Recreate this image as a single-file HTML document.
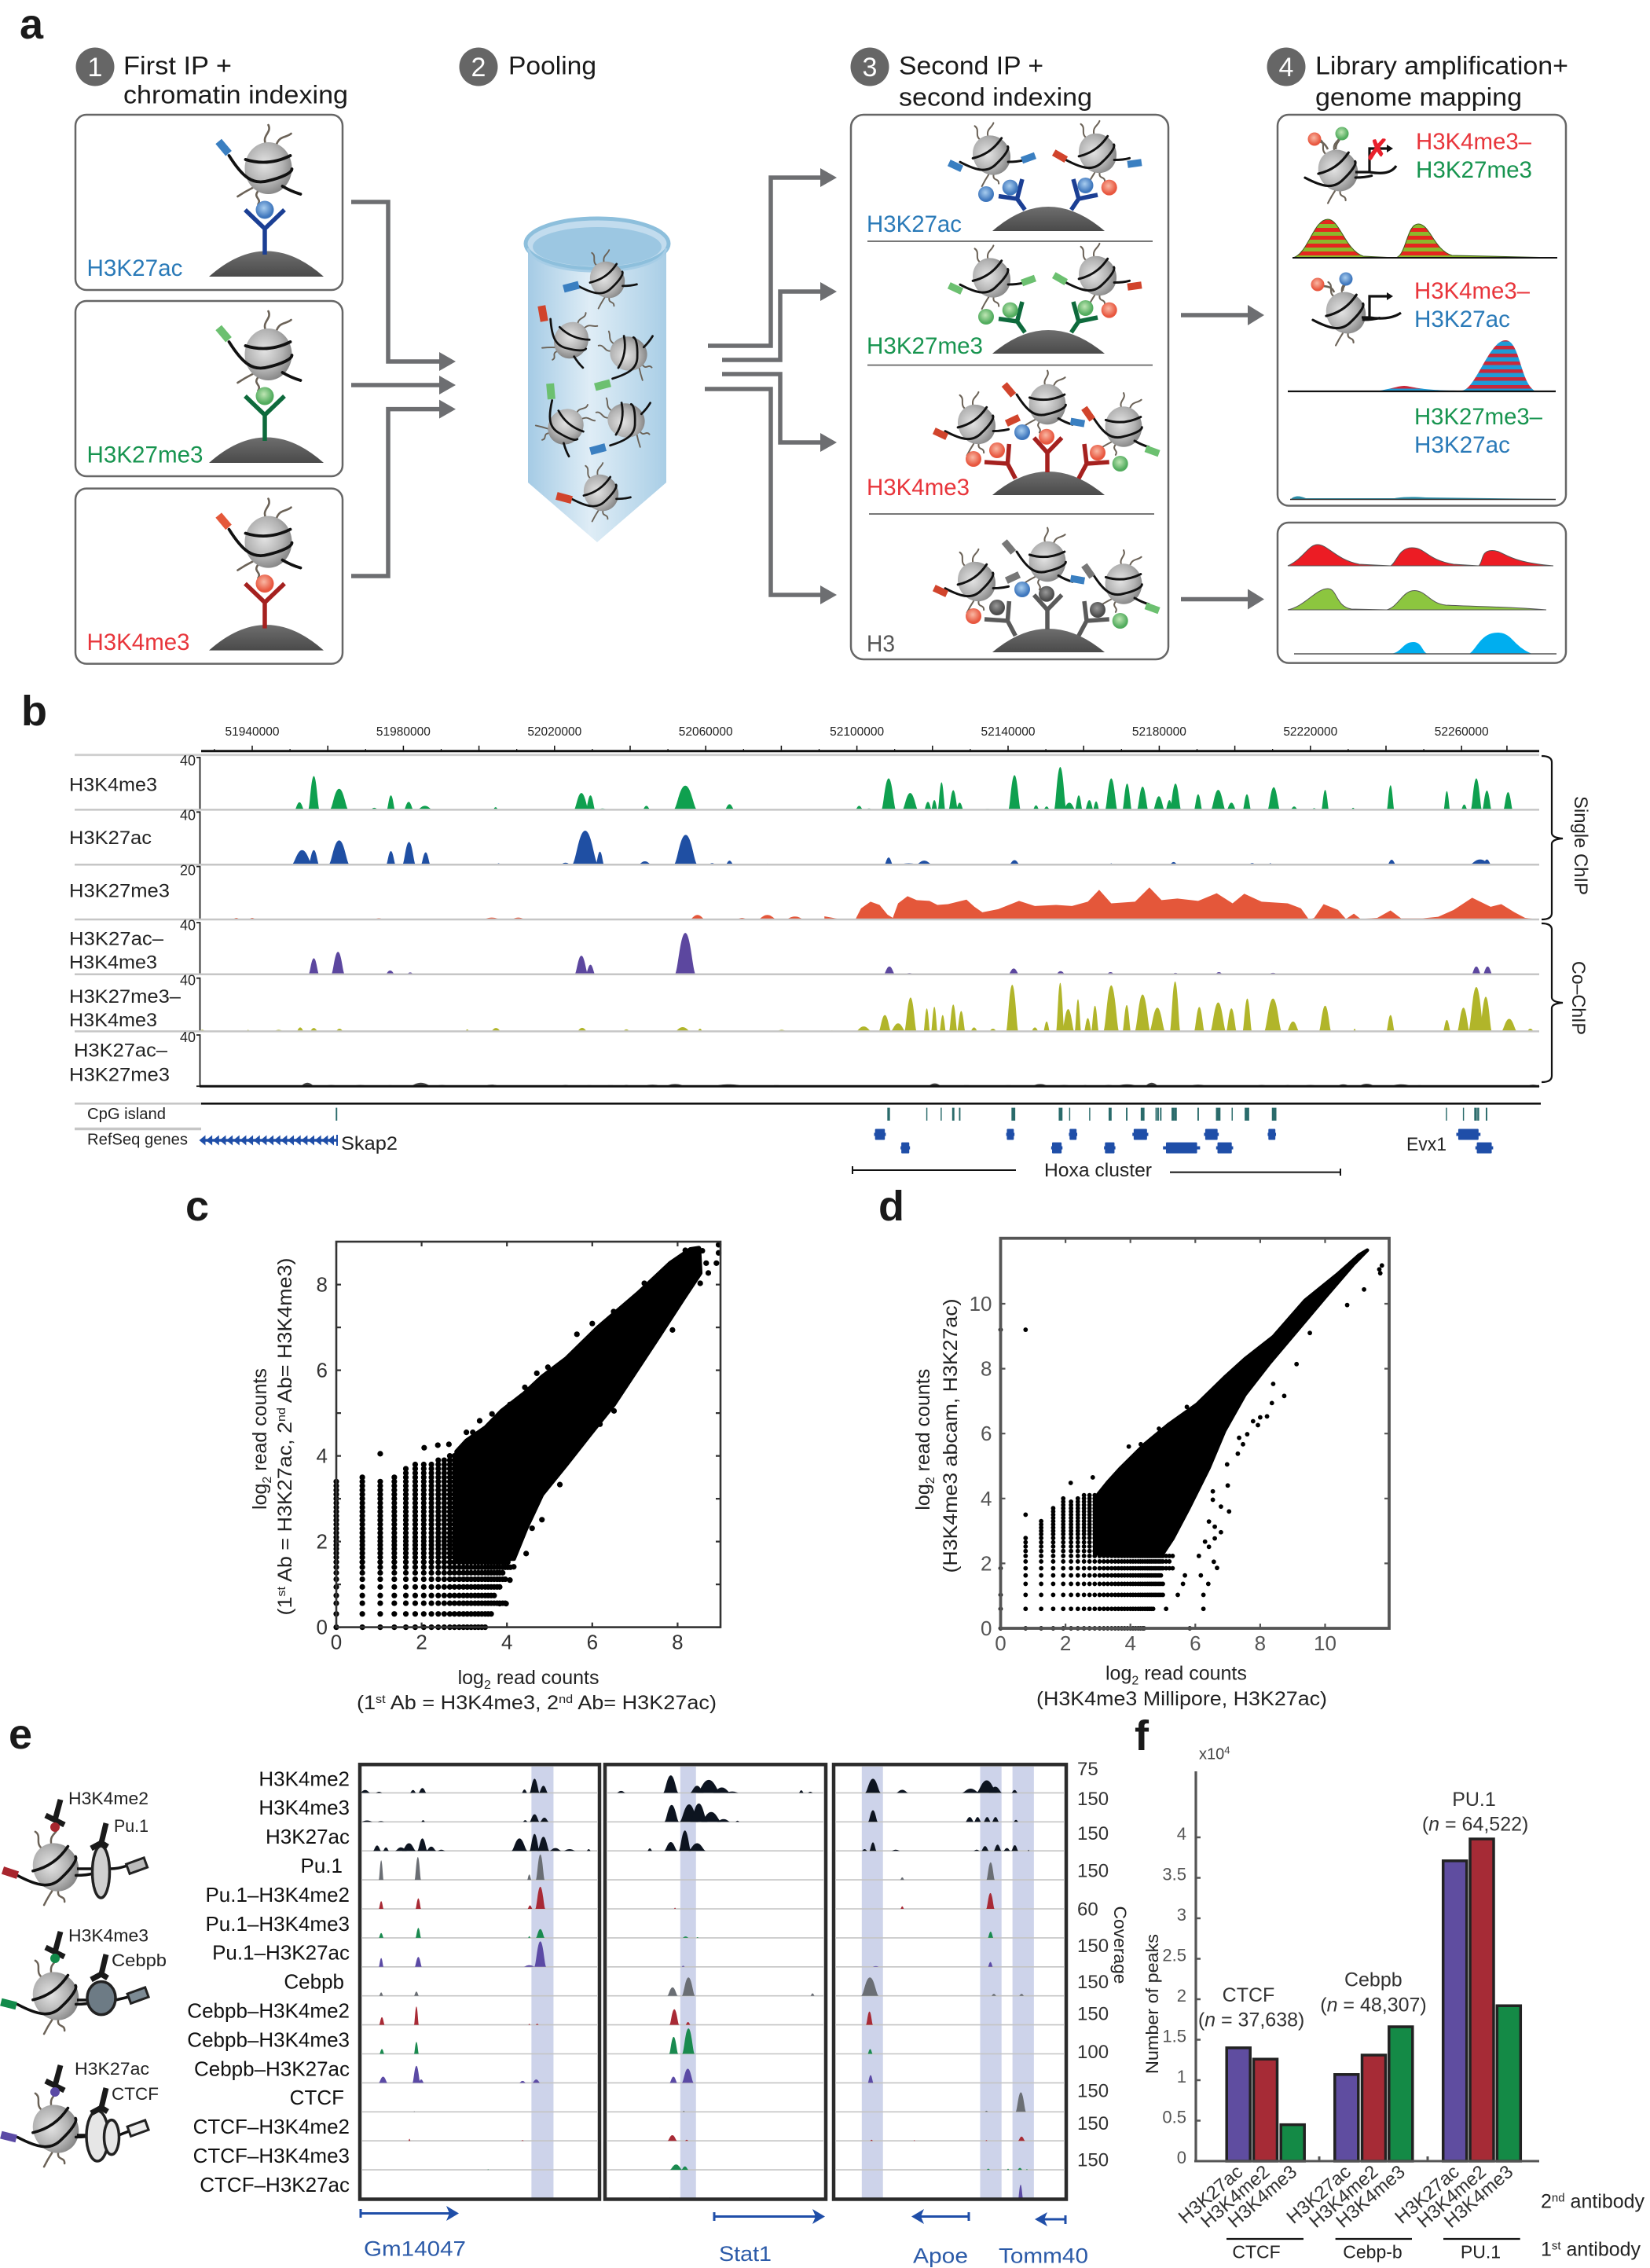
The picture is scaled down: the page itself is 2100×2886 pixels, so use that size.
<!DOCTYPE html>
<html lang="en">
<head>
<meta charset="utf-8">
<title>Sequential ChIP figure</title>
<style>
html,body{margin:0;padding:0;background:#fff}
svg{display:block}
text{font-family:"Liberation Sans",sans-serif}
.cap{font-size:32px;fill:#1a1a1a}
.num{font-size:34px;fill:#fff;text-anchor:middle}
.let{font-size:54px;font-weight:bold;fill:#1a1a1a}
.ab{font-size:30px}
.blue{fill:#2a7ab8}.green{fill:#17944f}.red{fill:#e8353b}
.box{fill:#fff;stroke:#666;stroke-width:2.5}
.arr{fill:none;stroke:#6d6e71;stroke-width:5.5}
.hd{fill:#6d6e71}
.div{stroke:#777;stroke-width:2}
.tb{font-size:24px;fill:#222}
.rot{font-size:24px;fill:#222}
.ct{font-size:20px;fill:#222}
.sc{font-size:25px;fill:#222}
.el{font-size:26px;fill:#111}
.cov{font-size:24px;fill:#333}
.gn{font-size:27px;fill:#2b5aa8}
.gb{fill:none;stroke:#1f4ea8;stroke-width:3}
.ghd{fill:#1f4ea8}
.fg{font-size:25px;fill:#333}
.flab{font-size:23px;fill:#222}
.ck{font-size:22px;fill:#333}
</style>
</head>
<body>
<svg xmlns="http://www.w3.org/2000/svg" id="fig" width="2100" height="2886" viewBox="0 0 2100 2886">
<defs>
<radialGradient id="nucG" cx=".42" cy=".42" r=".65"><stop offset="0" stop-color="#e4e4e4"/><stop offset=".6" stop-color="#b2b2b2"/><stop offset="1" stop-color="#7c7c7c"/></radialGradient>
<radialGradient id="ballB" cx=".45" cy=".4"><stop offset="0" stop-color="#a8cdef"/><stop offset="1" stop-color="#3f77bd"/></radialGradient>
<radialGradient id="ballG" cx=".45" cy=".4"><stop offset="0" stop-color="#bfe6b4"/><stop offset="1" stop-color="#52ac5e"/></radialGradient>
<radialGradient id="ballR" cx=".45" cy=".4"><stop offset="0" stop-color="#f9b8a4"/><stop offset="1" stop-color="#e8573f"/></radialGradient>
<radialGradient id="ballK" cx=".45" cy=".4"><stop offset="0" stop-color="#999"/><stop offset="1" stop-color="#4c4c4c"/></radialGradient>
<linearGradient id="domeG" x1="0" y1="0" x2="0" y2="1"><stop offset="0" stop-color="#6e6e6e"/><stop offset="1" stop-color="#4a4a4a"/></linearGradient>
<linearGradient id="tubeG" x1="0" y1="0" x2="1" y2="0"><stop offset="0" stop-color="#a5cbe5"/><stop offset=".45" stop-color="#dfedf6"/><stop offset="1" stop-color="#a9cee6"/></linearGradient>
<pattern id="stripeRG" patternUnits="userSpaceOnUse" width="10" height="10"><rect width="10" height="10" fill="#8cb82c"/><rect width="10" height="5" fill="#e5261f"/></pattern>
<pattern id="stripeRB" patternUnits="userSpaceOnUse" width="10" height="10"><rect width="10" height="10" fill="#1f9ad6"/><rect width="10" height="4.5" fill="#c9283a"/></pattern>
<g id="nuc">
<g fill="none" stroke="#6b6257" stroke-width="2.6" stroke-linecap="round">
<path d="M-3,-30 C-9,-42 5,-45 0,-55"/><path d="M10,-29 C14,-42 22,-38 29,-44"/><path d="M-20,25 Q-30,30 -39,36"/><path d="M-13,29 C-20,38 -8,38 -13,46"/>
</g>
<ellipse rx="30" ry="33" fill="url(#nucG)"/>
<g fill="none" stroke="#111" stroke-width="3.8" stroke-linecap="round">
<path d="M-29,-11 Q0,-2 28,-16"/>
<path d="M-50,-16 C-33,11 -20,22 0,16 C17,12 30,6 30,1"/>
<path d="M18,23 Q30,30 41,33"/>
</g>
</g>
<rect id="tag" x="-10" y="-5" width="20" height="10"/>
<g id="abBox" fill="none" stroke-width="5.5"><path d="M0,33 V0 M0,0 L-25,-24 M0,0 L25,-24" stroke-linejoin="miter"/></g>
</defs>

<!-- PANEL A -->
<g>
<text class="let" x="25" y="49">a</text>
<g>
<circle cx="121" cy="85" r="24.5" fill="#666"/><text class="num" x="121" y="97">1</text>
<text class="cap" x="157" y="94.3" textLength="138" lengthAdjust="spacingAndGlyphs">First IP +</text>
<text class="cap" x="157" y="131.6" textLength="286" lengthAdjust="spacingAndGlyphs">chromatin indexing</text>
</g>
<g>
<circle cx="609" cy="85" r="24.5" fill="#666"/><text class="num" x="609" y="97">2</text>
<text class="cap" x="647" y="94.3" textLength="112" lengthAdjust="spacingAndGlyphs">Pooling</text>
</g>
<g>
<circle cx="1107" cy="85" r="24.5" fill="#666"/><text class="num" x="1107" y="97">3</text>
<text class="cap" x="1144" y="94.3" textLength="184" lengthAdjust="spacingAndGlyphs">Second IP +</text>
<text class="cap" x="1144" y="134.4" textLength="246" lengthAdjust="spacingAndGlyphs">second indexing</text>
</g>
<g>
<circle cx="1637" cy="85" r="24.5" fill="#666"/><text class="num" x="1637" y="97">4</text>
<text class="cap" x="1674" y="94.3" textLength="322" lengthAdjust="spacingAndGlyphs">Library amplification+</text>
<text class="cap" x="1674" y="134.4" textLength="263" lengthAdjust="spacingAndGlyphs">genome mapping</text>
</g>

<!-- first IP boxes -->
<g>
<rect class="box" x="96" y="146" width="340" height="223" rx="14"/>
<use href="#nuc" transform="translate(341.5,214)"/><use href="#tag" transform="translate(284.6,187.6) rotate(50)" fill="#3a7fc1"/>
<path d="M266,352 Q339,287 412,352 Z" fill="url(#domeG)"/>
<use href="#abBox" transform="translate(337,291)" stroke="#1b3f94"/><circle cx="337" cy="267" r="11.5" fill="url(#ballB)"/>
<text class="ab blue" x="110.5" y="351" textLength="122" lengthAdjust="spacingAndGlyphs">H3K27ac</text>
</g>
<g transform="translate(0,237)">
<rect class="box" x="96" y="146" width="340" height="223" rx="14"/>
<use href="#nuc" transform="translate(341.5,214)"/><use href="#tag" transform="translate(284.6,187.6) rotate(50)" fill="#6cc070"/>
<path d="M266,352 Q339,287 412,352 Z" fill="url(#domeG)"/>
<use href="#abBox" transform="translate(337,291)" stroke="#0e6a3c"/><circle cx="337" cy="267" r="11.5" fill="url(#ballG)"/>
<text class="ab green" x="110.5" y="351.6" textLength="148" lengthAdjust="spacingAndGlyphs">H3K27me3</text>
</g>
<g transform="translate(0,475.6)">
<rect class="box" x="96" y="146" width="340" height="223" rx="14"/>
<use href="#nuc" transform="translate(341.5,214)"/><use href="#tag" transform="translate(284.6,187.6) rotate(50)" fill="#e4583a"/>
<path d="M266,352 Q339,287 412,352 Z" fill="url(#domeG)"/>
<use href="#abBox" transform="translate(337,291)" stroke="#a5211f"/><circle cx="337" cy="267" r="11.5" fill="url(#ballR)"/>
<text class="ab red" x="110.5" y="351.4" textLength="131" lengthAdjust="spacingAndGlyphs">H3K4me3</text>
</g>

<!-- pooling arrows -->
<g>
<path class="arr" d="M447,257 H494 V460 H560"/><path class="hd" d="M559,448 L580,460 L559,472Z"/>
<path class="arr" d="M447,490 H560"/><path class="hd" d="M559,478 L580,490 L559,502Z"/>
<path class="arr" d="M447,733 H494 V520.6 H560"/><path class="hd" d="M559,508.6 L580,520.6 L559,532.6Z"/>
</g>

<!-- tube -->
<g>
<path d="M672,310 V614 L760,690 L848,614 V310 Z" fill="url(#tubeG)"/>
<ellipse cx="760" cy="310" rx="91" ry="32" fill="#c2dcee" stroke="#8dbfdc" stroke-width="5"/>
<ellipse cx="760" cy="314" rx="82" ry="25" fill="#8fc0dd" opacity=".75"/>
<path d="M672,316 C680,355 840,355 848,316" fill="none" stroke="#a6cde6" stroke-width="3"/>
<use href="#nuc" transform="translate(773,356) rotate(-30) scale(.72)"/><use href="#tag" transform="translate(727,365) rotate(-15) scale(1)" fill="#3a7fc1"/>
<use href="#nuc" transform="translate(727,433) rotate(28) scale(.72)"/><use href="#tag" transform="translate(691,399) rotate(80)" fill="#d1442c"/>
<use href="#nuc" transform="translate(800,450) rotate(-75) scale(.72)"/><use href="#tag" transform="translate(767,490) rotate(-15)" fill="#6cc070"/>
<use href="#nuc" transform="translate(720,543) rotate(45) scale(.72)"/><use href="#tag" transform="translate(701,498) rotate(85)" fill="#6cc070"/>
<use href="#nuc" transform="translate(797,535) rotate(-75) scale(.72)"/><use href="#tag" transform="translate(761,571.6) rotate(-15)" fill="#3a7fc1"/>
<use href="#nuc" transform="translate(765,627) rotate(-30) scale(.72)"/><use href="#tag" transform="translate(718,633.6) rotate(15)" fill="#d1442c"/>
</g>

<!-- arrows out -->
<g>
<path class="arr" d="M901,440 H981 V226 H1046"/><path class="hd" d="M1044,214 L1065,226 L1044,238Z"/>
<path class="arr" d="M919,458 H993 V371 H1046"/><path class="hd" d="M1044,359 L1065,371 L1044,383Z"/>
<path class="arr" d="M919,476 H993 V563 H1046"/><path class="hd" d="M1044,551 L1065,563 L1044,575Z"/>
<path class="arr" d="M897,495 H981 V757 H1046"/><path class="hd" d="M1044,745 L1065,757 L1044,769Z"/>
</g>

<!-- second IP -->
<g>
<rect class="box" x="1083" y="146" width="404" height="693" rx="16"/>
<line class="div" x1="1104" x2="1467" y1="307" y2="307"/><line class="div" x1="1104" x2="1467" y1="464.6" y2="464.6"/><line class="div" x1="1106" x2="1469" y1="654" y2="654"/>
<g fill="url(#domeG)">
<path d="M1263,294 Q1334,232 1406,294Z"/><path d="M1263,450 Q1334,390 1406,450Z"/><path d="M1263,630 Q1334,570 1406,630Z"/><path d="M1263,830 Q1334,770 1406,830Z"/>
</g>
<g>
<use href="#nuc" transform="translate(1262,197.5) rotate(-30) scale(.78)"/><use href="#nuc" transform="translate(1397,195) rotate(-30) scale(.78)"/>
<use href="#tag" transform="translate(1216,211) rotate(25) scale(.9)" fill="#3a7fc1"/><use href="#tag" transform="translate(1309,201) rotate(-20) scale(.9)" fill="#3a7fc1"/><use href="#tag" transform="translate(1349,198.6) rotate(30) scale(.9)" fill="#d1442c"/><use href="#tag" transform="translate(1444,208) rotate(-8) scale(.9)" fill="#3a7fc1"/>
<path d="M1304.5,267 L1294.5,253 L1301,228 M1294.5,253 L1271,249.6 M1363.4,267 L1372.8,253 L1366,228 M1372.8,253 L1397,248" fill="none" stroke="#1b3f94" stroke-width="5.5"/>
<circle cx="1255" cy="247" r="10" fill="url(#ballB)"/><circle cx="1285.7" cy="238.6" r="10" fill="url(#ballB)"/><circle cx="1381.5" cy="236" r="10" fill="url(#ballB)"/><circle cx="1411.7" cy="238.6" r="10" fill="url(#ballR)"/>
<text class="ab blue" x="1103" y="295" textLength="121" lengthAdjust="spacingAndGlyphs">H3K27ac</text>
</g>
<g transform="translate(0,156)">
<use href="#nuc" transform="translate(1262,197.5) rotate(-30) scale(.78)"/><use href="#nuc" transform="translate(1397,195) rotate(-30) scale(.78)"/>
<use href="#tag" transform="translate(1216,211) rotate(25) scale(.9)" fill="#6cc070"/><use href="#tag" transform="translate(1309,201) rotate(-20) scale(.9)" fill="#6cc070"/><use href="#tag" transform="translate(1349,198.6) rotate(30) scale(.9)" fill="#6cc070"/><use href="#tag" transform="translate(1444,208) rotate(-8) scale(.9)" fill="#d1442c"/>
<path d="M1304.5,267 L1294.5,253 L1301,228 M1294.5,253 L1271,249.6 M1363.4,267 L1372.8,253 L1366,228 M1372.8,253 L1397,248" fill="none" stroke="#0e6a3c" stroke-width="5.5"/>
<circle cx="1255" cy="247" r="10" fill="url(#ballG)"/><circle cx="1285.7" cy="238.6" r="10" fill="url(#ballG)"/><circle cx="1381.5" cy="236" r="10" fill="url(#ballG)"/><circle cx="1411.7" cy="238.6" r="10" fill="url(#ballR)"/>
<text class="ab green" x="1103" y="294" textLength="148" lengthAdjust="spacingAndGlyphs">H3K27me3</text>
</g>
<g>
<use href="#nuc" transform="translate(1243,540) rotate(-30) scale(.78)"/><use href="#nuc" transform="translate(1333,514.5) scale(.78)"/><use href="#nuc" transform="translate(1430,543) scale(.78)"/>
<use href="#tag" transform="translate(1197,552) rotate(25) scale(.9)" fill="#d1442c"/><use href="#tag" transform="translate(1289,535) rotate(-25) scale(.9)" fill="#d1442c"/><use href="#tag" transform="translate(1284,496) rotate(50) scale(.9)" fill="#d1442c"/><use href="#tag" transform="translate(1371.4,537.6) rotate(10) scale(.9)" fill="#3a7fc1"/><use href="#tag" transform="translate(1385,526.6) rotate(55) scale(.9)" fill="#d1442c"/><use href="#tag" transform="translate(1466.6,574) rotate(20) scale(.9)" fill="#6cc070"/>
<path d="M1292.4,609 L1282.4,590 L1284.4,565 M1282.4,590 L1253,588 M1333,601 V576 L1316,557 M1333,576 L1351.4,557 M1372.8,609 L1383,590 L1380,565 M1383,590 L1411.7,588" fill="none" stroke="#a5211f" stroke-width="5.5"/>
<circle cx="1239" cy="584" r="10" fill="url(#ballR)"/><circle cx="1269" cy="573" r="10" fill="url(#ballR)"/><circle cx="1301" cy="550" r="10" fill="url(#ballB)"/><circle cx="1332" cy="555.7" r="10" fill="url(#ballR)"/><circle cx="1397" cy="576" r="10" fill="url(#ballR)"/><circle cx="1425.7" cy="590" r="10" fill="url(#ballG)"/>
<text class="ab red" x="1103" y="630" textLength="131" lengthAdjust="spacingAndGlyphs">H3K4me3</text>
</g>
<g transform="translate(0,200)">
<use href="#nuc" transform="translate(1243,540) rotate(-30) scale(.78)"/><use href="#nuc" transform="translate(1333,514.5) scale(.78)"/><use href="#nuc" transform="translate(1430,543) scale(.78)"/>
<use href="#tag" transform="translate(1197,552) rotate(25) scale(.9)" fill="#d1442c"/><use href="#tag" transform="translate(1289,535) rotate(-25) scale(.9)" fill="#777"/><use href="#tag" transform="translate(1284,496) rotate(50) scale(.9)" fill="#777"/><use href="#tag" transform="translate(1371.4,537.6) rotate(10) scale(.9)" fill="#3a7fc1"/><use href="#tag" transform="translate(1385,526.6) rotate(55) scale(.9)" fill="#777"/><use href="#tag" transform="translate(1466.6,574) rotate(20) scale(.9)" fill="#6cc070"/>
<path d="M1292.4,609 L1282.4,590 L1284.4,565 M1282.4,590 L1253,588 M1333,601 V576 L1316,557 M1333,576 L1351.4,557 M1372.8,609 L1383,590 L1380,565 M1383,590 L1411.7,588" fill="none" stroke="#5a5a5a" stroke-width="5.5"/>
<circle cx="1239" cy="584" r="10" fill="url(#ballR)"/><circle cx="1269" cy="573" r="10" fill="url(#ballK)"/><circle cx="1301" cy="550" r="10" fill="url(#ballB)"/><circle cx="1332" cy="555.7" r="10" fill="url(#ballK)"/><circle cx="1397" cy="576" r="10" fill="url(#ballK)"/><circle cx="1425.7" cy="590" r="10" fill="url(#ballG)"/>
<text class="ab" fill="#555" x="1103" y="629" textLength="36" lengthAdjust="spacingAndGlyphs">H3</text>
</g>
</g>

<!-- arrows to results -->
<g>
<path class="arr" d="M1503,401 H1590"/><path class="hd" d="M1588,388 L1609,401 L1588,414Z"/>
<path class="arr" d="M1503,762.5 H1590"/><path class="hd" d="M1588,749.5 L1609,762.5 L1588,775.5Z"/>
</g>

<!-- results -->
<g>
<rect class="box" x="1626" y="146" width="367" height="497.5" rx="14"/>
<g>
<use href="#nuc" transform="translate(1703,217) rotate(-30) scale(.82)"/>
<path d="M1690,190 C1684,178 1680,182 1673,177 M1700,190 C1700,180 1706,180 1708,170" fill="none" stroke="#6b6257" stroke-width="2.6"/>
<circle cx="1673" cy="177" r="8.5" fill="url(#ballR)"/><circle cx="1708" cy="170" r="8.5" fill="url(#ballG)"/>
<path d="M1725,219 H1743 V189 H1766 M1743,219 C1755,221 1770,222 1777,211" fill="none" stroke="#111" stroke-width="3.2"/><path d="M1765,184 L1773,189 L1765,194Z" fill="#111"/>
<text x="1753" y="203" font-size="36" font-weight="bold" fill="#e8202c" text-anchor="middle">✗</text>
<text class="ab red" x="1802" y="190" textLength="147" lengthAdjust="spacingAndGlyphs">H3K4me3–</text>
<text class="ab green" x="1802" y="226" textLength="148" lengthAdjust="spacingAndGlyphs">H3K27me3</text>
<path d="M1646,328 C1665,322 1672,279 1690,279 C1705,279 1712,318 1735,326 L1776,328 C1790,326 1790,285 1805,285 C1820,285 1825,318 1848,325 L1981,328 Z" fill="url(#stripeRG)" stroke="#3c5a1c" stroke-width="1"/>
<line x1="1645" x2="1982" y1="328" y2="328" stroke="#111" stroke-width="2"/>
</g>
<g>
<use href="#nuc" transform="translate(1713,398) rotate(-30) scale(.82)"/>
<path d="M1698,372 C1694,362 1686,366 1677,362 M1709,370 C1709,362 1714,364 1713,355" fill="none" stroke="#6b6257" stroke-width="2.6"/>
<circle cx="1677" cy="362" r="8.5" fill="url(#ballR)"/><circle cx="1713" cy="355" r="8.5" fill="url(#ballB)"/>
<path d="M1733,404 H1743 V377 H1766 M1743,404 C1755,406 1772,406 1783,398" fill="none" stroke="#111" stroke-width="3.2"/><path d="M1765,372 L1773,377 L1765,382Z" fill="#111"/>
<text class="ab red" x="1800" y="380" textLength="147" lengthAdjust="spacingAndGlyphs">H3K4me3–</text>
<text class="ab blue" x="1800" y="416" textLength="122" lengthAdjust="spacingAndGlyphs">H3K27ac</text>
<path d="M1750,498 C1770,495 1780,491 1787,491 C1795,491 1805,497 1860,497 C1878,497 1895,433 1916,433 C1935,433 1935,490 1955,498 Z" fill="url(#stripeRB)"/>
<line x1="1639" x2="1980" y1="498" y2="498" stroke="#111" stroke-width="2.2"/>
</g>
<g>
<text class="ab green" x="1800" y="540" textLength="163" lengthAdjust="spacingAndGlyphs">H3K27me3–</text>
<text class="ab blue" x="1800" y="576" textLength="122" lengthAdjust="spacingAndGlyphs">H3K27ac</text>
<path d="M1643,635 C1648,630 1655,631 1662,634 L1775,634 C1785,632 1800,632 1815,633 L1980,635 Z" fill="#2a8da8"/>
<line x1="1642" x2="1980" y1="635.5" y2="635.5" stroke="#333" stroke-width="1.5"/>
</g>
</g>
<g>
<rect class="box" x="1626" y="665" width="367" height="178.6" rx="14"/>
<path d="M1639,720 C1660,710 1665,693 1677,693 C1690,693 1700,712 1730,718 L1770,720 C1778,715 1780,697 1797,697 C1815,697 1815,712 1850,718 L1882,720 C1888,715 1884,700.5 1899,700.5 C1915,700.5 1915,715 1977,720 Z" fill="#ec1c24" stroke="#555" stroke-width="1"/>
<path d="M1639,776 C1660,772 1675,749 1690,749 C1702,749 1700,772 1720,775 L1765,776 C1780,772 1785,751.5 1800,751.5 C1815,751.5 1820,768 1840,770 C1880,772 1920,772 1968,776 Z" fill="#8cc63f" stroke="#555" stroke-width="1"/>
<path d="M1770,832 C1785,830 1785,817 1799,817 C1810,817 1810,830 1817,832 L1870,832 C1880,825 1885,805 1906,805 C1925,805 1925,822 1950,832 Z" fill="#00aeef"/>
<line x1="1647" x2="1981" y1="832" y2="832" stroke="#555" stroke-width="1.5"/>
</g>
</g>

<!-- PANEL B static -->
<g>
<text class="let" x="27" y="923">b</text>
<text class="tb" x="88" y="1006.7" textLength="112" lengthAdjust="spacingAndGlyphs">H3K4me3</text>
<text class="tb" x="88" y="1074" textLength="105" lengthAdjust="spacingAndGlyphs">H3K27ac</text>
<text class="tb" x="88" y="1141.4" textLength="128" lengthAdjust="spacingAndGlyphs">H3K27me3</text>
<text class="tb" x="88" y="1202.7" textLength="120" lengthAdjust="spacingAndGlyphs">H3K27ac–</text>
<text class="tb" x="88" y="1232.4" textLength="112" lengthAdjust="spacingAndGlyphs">H3K4me3</text>
<text class="tb" x="88" y="1276" textLength="142" lengthAdjust="spacingAndGlyphs">H3K27me3–</text>
<text class="tb" x="88" y="1306" textLength="112" lengthAdjust="spacingAndGlyphs">H3K4me3</text>
<text class="tb" x="94" y="1344.7" textLength="119" lengthAdjust="spacingAndGlyphs">H3K27ac–</text>
<text class="tb" x="88" y="1375.3" textLength="128" lengthAdjust="spacingAndGlyphs">H3K27me3</text>
<text class="ct" x="111" y="1424" textLength="100" lengthAdjust="spacingAndGlyphs">CpG island</text>
<text class="ct" x="111" y="1456.5" textLength="128" lengthAdjust="spacingAndGlyphs">RefSeq genes</text>
<text class="tb" x="434" y="1463" textLength="72" lengthAdjust="spacingAndGlyphs">Skap2</text>
<text class="tb" x="1790" y="1464" textLength="51" lengthAdjust="spacingAndGlyphs">Evx1</text>
<text class="tb" x="1329" y="1497" textLength="137" lengthAdjust="spacingAndGlyphs">Hoxa cluster</text>
<path d="M1085,1484 V1494 M1085,1489 H1293 M1489,1491.6 H1706 M1706,1487 V1496" fill="none" stroke="#111" stroke-width="2"/>
<path d="M1962,962 Q1975,962 1975,970 L1975,1060 Q1975,1066 1989,1067 Q1975,1068 1975,1074 L1975,1162 Q1975,1170 1962,1170" fill="none" stroke="#111" stroke-width="2.2"/>
<path d="M1962,1175 Q1975,1175 1975,1183 L1975,1269 Q1975,1275 1989,1276 Q1975,1277 1975,1283 L1975,1369 Q1975,1377 1962,1377" fill="none" stroke="#111" stroke-width="2.2"/>
<text class="rot" transform="translate(2004,1076) rotate(90)" text-anchor="middle" textLength="126" lengthAdjust="spacingAndGlyphs">Single ChIP</text>
<text class="rot" transform="translate(2001,1270) rotate(90)" text-anchor="middle" textLength="94" lengthAdjust="spacingAndGlyphs">Co–ChIP</text>
</g>
<g id="panelB"></g>

<!-- PANEL C/D static -->
<g>
<text class="let" x="236" y="1553">c</text>
<text class="sc" x="582.6" y="2143">log<tspan dy="6" font-size="16">2</tspan><tspan dy="-6"> read counts</tspan></text>
<text class="sc" x="454" y="2175" textLength="458" lengthAdjust="spacingAndGlyphs">(1<tspan dy="-8" font-size="15">st</tspan><tspan dy="8"> Ab = H3K4me3, 2</tspan><tspan dy="-8" font-size="15">nd</tspan><tspan dy="8"> Ab= H3K27ac)</tspan></text>
<text class="sc" transform="translate(339,1831) rotate(-90)" text-anchor="middle">log<tspan dy="6" font-size="16">2</tspan><tspan dy="-6"> read counts</tspan></text>
<text class="sc" transform="translate(371,1828) rotate(-90)" text-anchor="middle" textLength="455" lengthAdjust="spacingAndGlyphs">(1<tspan dy="-8" font-size="15">st</tspan><tspan dy="8"> Ab = H3K27ac, 2</tspan><tspan dy="-8" font-size="15">nd</tspan><tspan dy="8"> Ab= H3K4me3)</tspan></text>
</g>
<g id="panelC"></g>
<g>
<text class="let" x="1118" y="1553">d</text>
<text class="sc" x="1407" y="2137.7">log<tspan dy="6" font-size="16">2</tspan><tspan dy="-6"> read counts</tspan></text>
<text class="sc" x="1319" y="2170" textLength="370" lengthAdjust="spacingAndGlyphs">(H3K4me3 Millipore, H3K27ac)</text>
<text class="sc" transform="translate(1183,1831.7) rotate(-90)" text-anchor="middle">log<tspan dy="6" font-size="16">2</tspan><tspan dy="-6"> read counts</tspan></text>
<text class="sc" transform="translate(1218,1827) rotate(-90)" text-anchor="middle" textLength="349" lengthAdjust="spacingAndGlyphs">(H3K4me3 abcam, H3K27ac)</text>
</g>
<g id="panelD"></g>

<!-- PANEL E static -->
<g>
<text class="let" x="11" y="2225">e</text>
<g>
<use href="#nuc" transform="translate(71,2376) rotate(-30) scale(.95)"/><use href="#tag" transform="translate(13,2383) rotate(18)" fill="#a8262e"/>
<path d="M98,2378 H118 M140,2378 C150,2378 155,2376 162,2374" fill="none" stroke="#111" stroke-width="3.5"/>
<ellipse cx="128.5" cy="2382" rx="11" ry="33" fill="#cfcfcf" stroke="#222" stroke-width="3.5"/>
<rect x="-11" y="-6" width="24" height="13" transform="translate(173,2374) rotate(-20)" fill="#bbb" stroke="#222" stroke-width="3"/>
<path d="M77,2290 L70,2316 M70,2316 L58,2310 M70,2316 L82,2322 M135,2320 L129,2345 M129,2345 L116,2352 M129,2345 L137,2350" fill="none" stroke="#1a1a1a" stroke-width="7"/>
<circle cx="70" cy="2325" r="6" fill="#a8262e"/>
<text style="font-size:22px" fill="#222" x="87" y="2296" textLength="102" lengthAdjust="spacingAndGlyphs">H3K4me2</text>
<text style="font-size:22px" fill="#222" x="145" y="2331" textLength="44" lengthAdjust="spacingAndGlyphs">Pu.1</text>
</g>
<g>
<use href="#nuc" transform="translate(71,2540) rotate(-30) scale(.95)"/><use href="#tag" transform="translate(11,2550) rotate(14)" fill="#128a4a"/>
<path d="M98,2545 H112 M147,2545 L164,2541" fill="none" stroke="#111" stroke-width="3.5"/>
<ellipse cx="129" cy="2542.6" rx="18" ry="21" fill="#6d7b85" stroke="#222" stroke-width="3.5"/>
<rect x="-11" y="-6" width="24" height="13" transform="translate(174.5,2539) rotate(-20)" fill="#7c8a94" stroke="#222" stroke-width="3"/>
<path d="M77,2458 L70,2484 M70,2484 L58,2478 M70,2484 L82,2490 M135,2487 L129,2512 M129,2512 L116,2519 M129,2512 L137,2517" fill="none" stroke="#1a1a1a" stroke-width="7"/>
<circle cx="70" cy="2492" r="6" fill="#128a4a"/>
<text style="font-size:22px" fill="#222" x="87" y="2470.5" textLength="102" lengthAdjust="spacingAndGlyphs">H3K4me3</text>
<text style="font-size:22px" fill="#222" x="142" y="2502" textLength="70" lengthAdjust="spacingAndGlyphs">Cebpb</text>
</g>
<g>
<use href="#nuc" transform="translate(71,2709) rotate(-30) scale(.95)"/><use href="#tag" transform="translate(11,2719) rotate(14)" fill="#5b4aa5"/>
<path d="M98,2717 H110 M151,2717 L164,2712" fill="none" stroke="#111" stroke-width="3.5"/>
<ellipse cx="124" cy="2718" rx="14" ry="32" fill="#e6e6e6" stroke="#222" stroke-width="3.5"/>
<ellipse cx="142" cy="2719.6" rx="9.5" ry="22" fill="#e6e6e6" stroke="#222" stroke-width="3.5"/>
<rect x="-11" y="-6" width="24" height="13" transform="translate(174.5,2708) rotate(-20)" fill="#eee" stroke="#222" stroke-width="3"/>
<path d="M77,2628 L70,2654 M70,2654 L58,2648 M70,2654 L82,2660 M135,2657 L129,2682 M129,2682 L116,2689 M129,2682 L137,2687" fill="none" stroke="#1a1a1a" stroke-width="7"/>
<circle cx="70" cy="2662" r="6" fill="#5b4aa5"/>
<text style="font-size:22px" fill="#222" x="95" y="2640" textLength="95" lengthAdjust="spacingAndGlyphs">H3K27ac</text>
<text style="font-size:22px" fill="#222" x="142" y="2672" textLength="60" lengthAdjust="spacingAndGlyphs">CTCF</text>
</g>
</g>
<g id="panelE"></g>
<g>
<text class="cov" x="1371" y="2259">75</text><text class="cov" x="1371" y="2297">150</text><text class="cov" x="1371" y="2341">150</text><text class="cov" x="1371" y="2388.5">150</text><text class="cov" x="1371" y="2437.6">60</text><text class="cov" x="1371" y="2484">150</text><text class="cov" x="1371" y="2530">150</text><text class="cov" x="1371" y="2570.5">150</text><text class="cov" x="1371" y="2619">100</text><text class="cov" x="1371" y="2668.7">150</text><text class="cov" x="1371" y="2710">150</text><text class="cov" x="1371" y="2756.6">150</text>
<text style="font-size:22px" fill="#222" transform="translate(1418,2475) rotate(90)" text-anchor="middle" textLength="99" lengthAdjust="spacingAndGlyphs">Coverage</text>
</g>
<g>
<g><path class="gb" d="M459,2811 V2822 M459,2816.5 H574"/><path class="ghd" d="M568,2807 L584,2816.5 L568,2826 L572,2816.5Z"/><text class="gn" x="463" y="2870.5" textLength="130" lengthAdjust="spacingAndGlyphs">Gm14047</text></g>
<g><path class="gb" d="M909,2815 V2826 M909,2820.5 H1040"/><path class="ghd" d="M1034,2811 L1050,2820.5 L1034,2830 L1038,2820.5Z"/><text class="gn" x="915" y="2877" textLength="67" lengthAdjust="spacingAndGlyphs">Stat1</text></g>
<g><path class="gb" d="M1233,2815 V2826 M1233,2820.5 H1168"/><path class="ghd" d="M1176,2811 L1160,2820.5 L1176,2830 L1172,2820.5Z"/><text class="gn" x="1162" y="2879.5" textLength="70" lengthAdjust="spacingAndGlyphs">Apoe</text></g>
<g><path class="gb" d="M1356,2819 V2830 M1356,2824 H1325"/><path class="ghd" d="M1333,2815 L1317,2824 L1333,2833 L1329,2824Z"/><text class="gn" x="1271" y="2879.5" textLength="114" lengthAdjust="spacingAndGlyphs">Tomm40</text></g>
</g>

<!-- PANEL F static -->
<g>
<text class="let" x="1444" y="2227">f</text>
<text style="font-size:20px" fill="#444" x="1526" y="2238.6">x10<tspan dy="-7" font-size="13">4</tspan></text>
<text style="font-size:22px" fill="#222" transform="translate(1474,2550) rotate(-90)" text-anchor="middle" textLength="178" lengthAdjust="spacingAndGlyphs">Number of peaks</text>
<text class="fg" x="1589" y="2547" text-anchor="middle">CTCF</text>
<text class="fg" x="1592.6" y="2578.6" text-anchor="middle">(<tspan font-style="italic">n</tspan> = 37,638)</text>
<text class="fg" x="1747.8" y="2527.7" text-anchor="middle">Cebpb</text>
<text class="fg" x="1748" y="2559.7" text-anchor="middle">(<tspan font-style="italic">n</tspan> = 48,307)</text>
<text class="fg" x="1876" y="2298" text-anchor="middle">PU.1</text>
<text class="fg" x="1877.6" y="2329.5" text-anchor="middle">(<tspan font-style="italic">n</tspan> = 64,522)</text>
<path d="M1561,2849 H1659 M1699.6,2849 H1797 M1837,2849 H1934.7" stroke="#111" stroke-width="2.2" fill="none"/>
<text class="flab" x="1599" y="2873.7" text-anchor="middle">CTCF</text>
<text class="flab" x="1747" y="2873.7" text-anchor="middle">Cebp-b</text>
<text class="flab" x="1884.5" y="2873.7" text-anchor="middle">PU.1</text>
<text class="sc" x="1961" y="2809.7">2<tspan dy="-8" font-size="15">nd</tspan><tspan dy="8"> antibody</tspan></text>
<text class="sc" x="1961" y="2870.5">1<tspan dy="-8" font-size="15">st</tspan><tspan dy="8"> antibody</tspan></text>
</g>
<g id="panelF"></g>
</svg>

<script>
/* ===== Panel b data: [kb from 51,940,000, signal, width in kb] ===== */
const bTickLabels = [51940000,51980000,52020000,52060000,52100000,52140000,52180000,52220000,52260000];
const bMajorTicksKb = [0,20,40,60,80,100,120,140,160,180,200,220,240,260,280,300,320,332];
const bMinorTicksKb = [-10,10,30,50,70,90,110,130,150,170,190,210,230,250,270,290,310];
const bScaleLabels = [40,40,20,40,40,40];
const bTrackMax = [40,40,20,40,40,40];
const h3k4me3Peaks = [[12.5,5.7,2.5],[16.3,25.8,3],[23,16,5],[32.3,1.5,2],[36.7,11,2.2],[41.4,6,2.5],[45.7,3,4],[64.4,2,1.4],[87.1,12.8,4],[89.5,11,2.5],[92.7,1,2.8],[104.3,3,2],[114.6,18.4,6.3],[126.3,4.2,2.5],[160.6,3,2],[163.2,1,2],[168.4,24,3.9],[174.1,12.8,4.2],[178.8,6,2],[180.5,7.4,1.7],[182.4,21,2],[185.5,15,2.5],[187.2,5.4,2],[194.6,0.7,2.8],[201.7,26.5,3.3],[207.4,3.4,1.7],[210.2,2.5,1.7],[213.8,32.7,3.3],[216.2,5.4,3.3],[218.7,11,2],[221.5,7.4,2.2],[223.3,6.4,1.7],[227.3,24,3.3],[231.5,20,2.5],[235.6,17.7,3],[239.9,10.3,3],[242.7,7.4,2],[244.3,20,3],[250.3,11.8,2.2],[255.6,15.2,3.9],[259.1,5.4,2.5],[263.2,11.8,2.2],[270.3,17.2,3.3],[275.7,2.5,2],[281,1.2,1.4],[283.9,15.2,2],[291.3,1.5,1.1],[301.2,18.7,2],[316.1,14.3,1.7],[320.7,4,1.7],[323.9,24,3],[326.7,14.7,2.5],[332.3,13.5,2.5]];
const h3k27acPeaks = [[13.2,11,5.6],[16.3,11,2.8],[23,18.4,5.6],[36.7,10.3,2.5],[41.5,17.2,3.5],[45.9,9.3,2.5],[65.2,1,1.1],[82.9,1.5,2.8],[88.1,25.8,7],[92,9.8,2.2],[103.9,2.5,3.5],[114.7,22.6,6.3],[121.7,1.2,2],[126.3,3,2],[136.3,0.8,0.8],[168.4,5.4,2.2],[173.7,1,5.6],[177.8,3,4.2],[201.7,3.4,2.8],[227.3,1,0.8],[237.8,0.7,1.1],[243.8,2,2],[264.6,1.2,2],[269.4,1.2,0.8],[301.5,3.7,2.2],[324.9,3.9,5.6],[326.7,3.9,2.2]];
const h3k27me3Peaks = [[-4.2,0.6,2],[0,0.6,2],[33.5,0.5,2.5],[63.4,0.7,5],[70.4,0.7,4],[117.8,1.7,4],[129.6,0.6,3],[136.3,1.7,5],[143.6,1.1,5]];
const h3k27me3ProfileKb = [151.4,154.8,159.7,161.1,163.6,166,168.1,169.5,170.9,173.4,175.8,179.2,181.3,184.1,189,191.1,193.2,197.4,202.9,207.1,212.7,216.9,221.1,224.1,227.3,233.6,237.4,240.6,244.8,250.3,255.2,259.4,262.5,267.1,274,277.5,279.6,281,283.5,287.3,289.4,291.5,293.3,297.7,301.2,304,309.6,313.8,317.9,322.8,327.7,330.5,334,336.8,340.7];
const h3k27me3ProfileSignal = [1.2,0.3,0.3,4.2,6.7,5.5,1.8,0.6,6.1,8.8,7.3,7,5.5,5.8,7.5,4.8,2.7,3.9,7,5.1,5.5,5.1,6.7,11.2,6.1,6.7,12.1,7.3,7.9,7,9.9,6.1,9.7,6.7,6.1,4.2,0,0.6,5.8,3.6,0.2,2.2,0.2,0.6,3.4,0.4,0.4,1,3.6,8.2,4.8,5.8,2.7,0.6,0];
const acK4Peaks = [[16.3,12.4,2.8],[22.7,17.4,3.6],[36.5,3,2.5],[41.8,1.5,2],[87.1,14.4,3.6],[89.5,7.4,2.5],[114.6,32,5.6],[168.6,6,3],[173.9,1,3],[201.5,4.5,2.8],[213.9,2.5,2.5],[227.1,1.7,2.2],[235.8,0.7,2],[244.3,1.2,2],[255.8,1.7,2.2],[270.1,1.2,2.8],[301.2,0.5,2],[323.9,6,2.5],[326.9,6,2.5]];
const me3K4Peaks = [[-13.2,1.2,1.7],[-1.1,1.2,0.8],[7,1.2,2.8],[12.7,3,2],[16.3,2.5,2.2],[23.1,2,2.2],[56.9,1.5,1.1],[64.5,2.5,2.8],[87.3,2.7,2.8],[99,1.5,2],[113.9,3.2,4.2],[118.5,2,1.4],[140.1,1.2,2.8],[153.4,0.7,1],[161.8,3.7,4.2],[167.4,12.3,3.3],[170.9,6,4],[174.2,25.4,3.3],[178.5,17.3,1.7],[180.5,18.5,1.7],[182.7,12.3,1.7],[185.5,20.2,2.2],[187.6,15.3,2.2],[191,3,2],[196,2,2.2],[201.1,35,3.3],[207.1,3,2],[210.2,7.4,1.7],[213.8,36.5,2.2],[215.9,16.8,3.3],[218.5,24.2,1.7],[221.1,10,2],[223,19.3,2],[227.3,34.6,4.2],[231.4,19.8,2.2],[235.6,27.7,4.2],[239.5,17.8,4.2],[244.2,37.5,2.8],[250.6,18.3,2.8],[255.6,21.7,4.2],[259.1,17.3,2.8],[263.3,24.7,2.5],[270.1,24.7,4.7],[275.4,7.4,3.3],[283.9,19.3,3.3],[291.7,2,0.8],[301.2,12.3,2.2],[310.3,0.5,2],[316.1,8.6,2],[320.5,17.8,3.3],[323.9,33.3,4.2],[326.4,26,3.3],[332.6,9.4,4.2],[338.2,2,2]];
const acMe3Peaks = [[0.7,0.7,4],[5.6,0.7,3],[14.6,2.7,4],[20.9,1,5],[28.6,1,6],[36.5,0.8,4],[44.6,2.7,6],[50.2,1,5],[54.4,0.7,4],[63.4,1.2,5],[67.6,0.7,3],[72.5,0.7,4],[78.8,0.7,3],[82.9,1,4],[89.2,0.8,5],[94.8,0.8,6],[99,1,3],[105.9,1.2,6],[111.9,1.7,6],[115.7,0.7,4],[126.1,1.5,10],[138.7,0.8,6],[145,0.7,4],[154.8,0.6,4],[160.4,0.6,4],[169.5,0.7,6],[180.6,2.2,4],[189,0.8,6],[200.1,0.8,6],[208.5,1.7,5],[214.8,1,6],[220.4,0.9,3],[226.6,1,5],[231.5,1.5,7],[238,2.7,4],[243.3,0.7,4],[250.3,1.2,6],[259.4,0.7,3],[267.1,1,5],[274,0.9,4],[280,1,6],[288.7,1.5,4],[294.9,2,5],[304,1.5,7],[308.9,0.8,4],[315.9,0.6,4],[322.1,0.6,3],[329.1,0.7,4],[338.9,1.2,4]];
const cpgIslands = [[22.3,0.4],[168.4,0.7],[178.5,0.3],[182.3,0.3],[185.5,0.6],[187.2,0.4],[201.4,1],[213.9,1],[216.3,0.3],[221.6,0.3],[227,0.8],[231.4,0.4],[235.6,1],[239.2,0.4],[239.7,0.4],[240.4,0.4],[243.6,0.7],[244.3,0.7],[250.3,0.4],[255.6,1.2],[259.3,0.3],[263.2,1.2],[270.4,1.2],[316,0.3],[320.5,0.3],[323.7,0.7],[324.4,0.5],[326.6,0.4]];
const geneBlocksRow0 = [[166.1,3.1],[200.6,2.2],[217.2,2.2],[235,4.2],[253.8,3.9],[269.8,2.2],[321.8,6.4]];
const geneBlocksRow1 = [[172.8,2.5],[212.9,3],[226.9,3],[245.9,9.8],[257.3,4.5],[326,4.7]];
const skap2ExonsKb = [-13,-11.2,-9.4,-7.6,-5.8,-4,-2.2,-0.4,1.4,3.2,5,6.8,8.6,10.4,12.2,14,15.8,17.6,19.4,21];

/* ===== Panel c data ===== */
const cColumnsX = [0,0.61,1.03,1.36,1.63,1.85,2.05,2.23,2.39,2.53,2.66,2.77];
const cColumnTops = [3.4,3.5,3.45,3.55,3.7,3.8,3.85,3.88,3.95,3.95,4,4.05];
const cLevelsY = [0,0.31,0.56,0.74,0.94,1.12,1.27,1.4,1.52,1.63,1.73,1.83,1.92,2.01,2.1,2.2,2.3,2.4,2.5,2.6,2.7,2.8,2.9,3,3.1,3.2,3.3,3.4,3.5,3.6,3.7,3.8,3.9,4];
const cRowLevelsX = [0,0.61,1.03,1.36,1.63,1.85,2.05,2.23,2.39,2.53,2.66,2.77,2.88,2.98,3.07,3.16,3.25,3.33,3.41,3.49,3.56,3.63,3.7,3.77,3.83,3.9,3.96,4.02,4.08];
const cRowMax = [3.5,3.63,4,3.75,3.85,4,3.95,4.1,4.05];
const cUpperX = [2.82,3.05,3.5,3.88,4.4,4.82,5.39,6.14,7.08,7.83,8.3,8.5];
const cUpperY = [4.1,4.35,4.66,5.05,5.45,5.84,6.27,7,7.8,8.5,8.82,8.85];
const cLowerX = [8.53,8.11,7.55,7.08,6.51,5.95,5.39,4.82,4.45,4.16,2.82];
const cLowerY = [8.27,7.64,6.78,6.07,5.21,4.51,3.8,3.1,2.31,1.6,1.6];
const cOutliersX = [1.03,2.06,2.38,2.64,3.05,3.2,3.36,3.65,4.07,4.42,4.7,4.96,5.64,6,6.5,7.22,8.18,8.58,8.96,8.96,8.91,8.67,8.72,8.53,5.24,6.51,6.18,4.82,4.59,4.45,4.16,4.07,3.98,3.83,7.88];
const cOutliersY = [4.05,4.19,4.25,4.27,4.55,4.55,4.82,4.98,5.2,5.6,5.93,6.07,6.84,7.09,7.37,8.03,8.8,8.79,8.93,8.74,8.5,8.5,8.27,8.03,3.33,5.05,4.74,2.51,2.31,1.72,1.41,1.1,0.55,0.55,6.94];
const cTickLabels = [0,2,4,6,8];
const cMinorY = [1,3,5,7];

/* ===== Panel d data ===== */
const dColumnsX = [0.77,1.25,1.62,1.93,2.17,2.38,2.57,2.74,2.9];
const dColumnTops = [2.85,3.3,3.7,4,3.95,4.05,4.2,4.1,4.2];
const dLevelsY = [0,0.6,1.03,1.37,1.63,1.85,2.06,2.23,2.38,2.52,2.65,2.78,2.9,3,3.1,3.2,3.3,3.4,3.5,3.6,3.7,3.8,3.9,4,4.1];
const dRowLevelsX = [0.77,1.25,1.62,1.93,2.17,2.38,2.57,2.74,2.9,3.05,3.18,3.3,3.42,3.53,3.63,3.73,3.82,3.91,4,4.08,4.16,4.24,4.31,4.38,4.45,4.52,4.58,4.64,4.7,4.76,4.82,4.88,4.94,5,5.1,5.2,5.3];
const dRowMax = [4.44,4.7,5,5,4.96,5.3,5.2,5.3];
const dUpperX = [2.9,3.3,3.7,4.44,5.19,6.05,6.9,7.53,8.4,9.38,10.37,11.05,11.3];
const dUpperY = [4,4.5,4.94,5.67,6.29,6.9,7.73,8.3,8.98,10.1,10.9,11.5,11.65];
const dLowerX = [10.86,10,9.14,8.27,7.53,6.9,6.42,5.8,5.31,5,2.9];
const dLowerY = [11.2,10.2,9.18,8.15,7.2,6.08,4.94,3.7,2.77,2.3,2.3];
const dOutliersX = [0.77,0,0.77,0,0,0,0,11.67,11.75,11.7,11.2,10.68,9.53,9.12,8.74,8.36,8.21,8,7.78,7.93,8.4,7.6,7.35,7.47,7.31,6.98,7,6.54,6.54,6.79,7.04,6.42,6.6,6.79,6.6,6.3,6.42,6.11,6.57,6.67,6.17,6.4,6.25,6.25,5.68,5.62,5.46,5.1,5.83,4.42,2.16,2.84,3.95,4.32,5.74,4.88];
const dOutliersY = [9.2,9.2,3.5,1.85,1.03,0.6,0,11.06,11.18,10.94,10.44,9.96,9.1,8.14,7.16,6.94,6.53,6.5,6.38,6.26,7.53,5.98,5.87,5.67,5.38,5.05,4.4,4.22,3.96,3.75,3.6,3.29,3.13,2.96,2.77,2.67,2.51,2.23,2.05,1.86,1.63,1.37,1.03,0.6,1.63,1.37,1.03,0.6,0,0,4.48,4.65,5.6,5.67,6.82,6.15];
const dTickLabels = [0,2,4,6,8,10];

/* ===== Panel e data: [track, position % of window, signal % of track, width % of window] ===== */
const eTrackNames = ['H3K4me2','H3K4me3','H3K27ac','Pu.1','Pu.1–H3K4me2','Pu.1–H3K4me3','Pu.1–H3K27ac','Cebpb','Cebpb–H3K4me2','Cebpb–H3K4me3','Cebpb–H3K27ac','CTCF','CTCF–H3K4me2','CTCF–H3K4me3','CTCF–H3K27ac'];
const eWindow1Peaks = [[0,2.2,10,4.2],[0,8,4,3],[0,22.2,10,2.5],[0,26.1,17,3.3],[0,68.7,12,2.3],[0,72.9,50,4.2],[0,76.6,25,3.7],[1,3,5,5],[1,8.8,2.5,3],[1,26.4,6,1.7],[1,69,6,2],[1,72.9,27,4.2],[1,77,15,3.7],[2,7.2,19,3.3],[2,10.9,12.5,2.5],[2,17.2,12.5,5],[2,20.5,27,5.9],[2,26.1,44,4.2],[2,29.8,15,4.2],[2,34,4,3.3],[2,66.6,44,6.7],[2,72.9,60,4.2],[2,76.6,50,5],[2,81.6,10,5],[2,87.5,6,5],[2,95.5,6,1.7],[3,8.9,69,2],[3,24.2,81,2.7],[3,70.7,19,1.7],[3,75.3,90,3.7],[4,8.9,27,2],[4,24.4,37,2.3],[4,71,12,2],[4,75.3,78,4.2],[5,8.9,17,2],[5,24.4,35,2.3],[5,70.7,6,1],[5,75.3,31,3.7],[6,8.9,31,2],[6,24.4,35,3],[6,70.7,6,5],[6,75.3,90,5],[7,8.9,12,1.7],[7,23.6,15,2],[8,9.2,27,2.3],[8,23.6,65,2],[8,70.7,4,0.7],[8,74,4,1.3],[9,9.2,17,2],[9,23.6,42,2],[10,9.7,22,3.7],[10,23.6,60,3.3],[10,25.6,12,2.3],[10,67.9,7,2.7],[10,73.6,12,3.3],[11,22.7,2.5,0.5],[12,20.7,7,0.8],[12,67.9,2.5,1],[13,53.5,2.5,0.5],[14,75.7,4,2]];
const eWindow2Peaks = [[0,7.3,7,4],[0,29.8,62,7],[0,41.7,25,6.3],[0,47,46,11],[0,52.9,19,8],[0,57.6,5,6.3],[0,88.9,9,2.2],[0,93,4,2.5],[1,30.2,60,6.7],[1,38.1,62,8.7],[1,42.5,65,8],[1,48.1,35,9.5],[1,53.7,10,6.3],[1,60,4,2],[2,20.3,9,2.2],[2,29.8,31,6],[2,36.2,72,5.6],[2,41.7,27,8],[4,31.7,4,0.8],[5,36.5,5,2.9],[5,41.9,2.5,1],[6,35.4,4,1.6],[7,30.6,30,4.8],[7,37.8,65,6],[7,94,9,1.9],[8,31.4,55,4.4],[8,37.6,10,2.2],[9,31.1,60,4.1],[9,37.8,90,5.7],[10,31,22,3.5],[10,37.5,50,5.4],[11,35.7,4,1],[12,30.5,20,4.4],[12,37,4,1.6],[13,32.2,19,5.7],[13,36.2,12,3.2],[14,29.4,5,1.6]];
const eWindow3Peaks = [[0,16.9,50,6.8],[0,29.5,11,5.3],[0,58.9,15,7.6],[0,65.8,44,9],[0,69.5,22,6],[0,77.8,10,2.7],[1,16.9,41,4.2],[1,58.5,17,3.6],[1,61.9,17,3],[1,66,17,3],[1,69.6,17,3],[1,78.4,7,2.1],[2,13.3,6,2.4],[2,16.9,30,3],[2,26.7,4,3.6],[2,61.5,4,2.7],[2,65.1,17,3.3],[2,70.5,22,3.3],[2,74.5,10,3],[2,77.9,20,3],[2,83.8,4,0.6],[3,29.5,9,1.8],[3,67.5,62,3.6],[4,29.5,9,1.5],[4,67.4,56,3.6],[5,67.5,22,2.4],[6,18.1,2.5,3],[6,67.4,17,2.1],[7,15.6,65,7.6],[7,68.9,7,2.1],[7,80.8,7,2.1],[8,15.4,47,3],[9,15.7,17,2.1],[10,15.9,27,2.4],[11,65.7,4,1.5],[11,80.5,69,4.5],[12,16.3,4,1.2],[12,34.7,2.5,0.6],[12,65.7,2.5,0.9],[12,80.8,15,3],[13,66.5,4,1.5],[13,75,4,0.8],[13,80.1,7,2.1],[13,83.1,2.5,0.9],[14,80.4,50,2.1]];
const eWindow1Bands = [[71.6,9.2]];
const eWindow2Bands = [[34.1,7.1]];
const eWindow3Bands = [[12.1,9.1],[63,9.2],[76.9,9.2]];

/* ===== Panel f data ===== */
const fCategories = ['H3K27ac','H3K4me2','H3K4me3','H3K27ac','H3K4me2','H3K4me3','H3K27ac','H3K4me2','H3K4me3'];
const fGroups = ['CTCF','CTCF','CTCF','Cebpb','Cebpb','Cebpb','PU.1','PU.1','PU.1'];
const fValues = [1.40,1.26,0.45,1.07,1.31,1.66,3.71,3.98,1.92];
const fYTicks = [0,0.5,1,1.5,2,2.5,3,3.5,4];

/* ===== helpers ===== */
const NS = 'http://www.w3.org/2000/svg';
function mk(parent, tag, attrs, txt) {
  const e = document.createElementNS(NS, tag);
  for (const k in attrs) e.setAttribute(k, attrs[k]);
  if (txt !== undefined) e.textContent = txt;
  parent.appendChild(e);
  return e;
}
function peakPath(c, h, b, t) {
  return 'M' + (c - h) + ',' + b + ' C' + (c - h * .72) + ',' + b + ' ' + (c - h * .5) + ',' + t + ' ' + c + ',' + t + ' C' + (c + h * .5) + ',' + t + ' ' + (c + h * .72) + ',' + b + ' ' + (c + h) + ',' + b + ' Z';
}

/* ===== panel b ===== */
(function () {
  const root = document.getElementById('panelB');
  const pxPerKb = 4.81;
  const xKb = kb => 321 + kb * pxPerKb;
  const xGenome = pos => xKb((pos - 51940000) / 1000);
  const baselines = [1030.4, 1100.2, 1170, 1239.8, 1312.4, 1382.2];
  const tops = [963.9, 1033.3, 1102.6, 1174, 1244.7, 1317];
  const scaleY = [974, 1043.5, 1113.7, 1183.5, 1253.7, 1326];
  const yVal = (i, v) => baselines[i] - v / bTrackMax[i] * (baselines[i] - tops[i]);

  const axis = mk(root, 'line', {x1: 256, x2: 1959, y1: 955.7, y2: 955.7, stroke: '#111', 'stroke-width': 3});
  
  
  bMajorTicksKb.forEach(kb => {
    const t = mk(root, 'line', {x1: xKb(kb), x2: xKb(kb), y1: 948.8, y2: 955.7, stroke: '#111', 'stroke-width': 1.5});
    
    
  });
  bMinorTicksKb.forEach(kb => {
    const t = mk(root, 'line', {x1: xKb(kb), x2: xKb(kb), y1: 953, y2: 955.7, stroke: '#111', 'stroke-width': 1.2});
    
    
  });
  bTickLabels.forEach(v => {
    const t = mk(root, 'text', {x: xGenome(v), y: 936, 'text-anchor': 'middle', style: 'font-size:15.5px', fill: '#222'}, String(v));
    
    
  });

  const topBand = mk(root, 'line', {x1: 95, x2: 1959, y1: 960.6, y2: 960.6, stroke: '#d0d0d0', 'stroke-width': 3});
  
  

  const colors = ['#0fa04f', '#1f4fa3', '#e4573a', '#5c479f', '#b1b52a', '#444'];
  const series = [h3k4me3Peaks, h3k27acPeaks, h3k27me3Peaks, acK4Peaks, me3K4Peaks, acMe3Peaks];
  baselines.forEach((b, i) => {
    const ax = mk(root, 'path', {d: 'M250,' + tops[i] + ' H254.5 V' + b + ' H250', fill: 'none', stroke: '#222', 'stroke-width': 1.8});
    
    
    const sl = mk(root, 'text', {x: 249, y: scaleY[i], 'text-anchor': 'end', style: 'font-size:18px', fill: '#222'}, String(bScaleLabels[i]));
    
    
    series[i].forEach(p => {
      const c = xKb(p[0]), h = p[2] * pxPerKb / 2, t = yVal(i, p[1]);
      const m = mk(root, 'path', {d: peakPath(c, h, b, t), fill: colors[i]});
      
      
    });
    if (i === 2) {
      let d = 'M' + xKb(h3k27me3ProfileKb[0]) + ',' + b;
      h3k27me3ProfileKb.forEach((kb, j) => { d += ' L' + xKb(kb) + ',' + yVal(2, h3k27me3ProfileSignal[j]); });
      d += ' L' + xKb(h3k27me3ProfileKb[h3k27me3ProfileKb.length - 1]) + ',' + b + ' Z';
      const m = mk(root, 'path', {d: d, fill: colors[2]});
      
      
    }
    const isLast = i === 5;
    const bl = mk(root, 'line', {x1: isLast ? 254 : 95, x2: 1959, y1: b, y2: b, stroke: isLast ? '#111' : '#c6c6c6', 'stroke-width': isLast ? 3 : 2.5});
    
    
  });

  const rule1 = mk(root, 'line', {x1: 256, x2: 1961, y1: 1404.3, y2: 1404.3, stroke: '#111', 'stroke-width': 2.6});
  
  
  const rule2 = mk(root, 'line', {x1: 95, x2: 256, y1: 1404.3, y2: 1404.3, stroke: '#c6c6c6', 'stroke-width': 2.6});
  
  
  const rule3 = mk(root, 'line', {x1: 95, x2: 256, y1: 1436.5, y2: 1436.5, stroke: '#c6c6c6', 'stroke-width': 3.5});
  
  

  cpgIslands.forEach(c => {
    const r = mk(root, 'rect', {x: xKb(c[0]) - c[1] * pxPerKb / 2, y: 1409.6, width: c[1] * pxPerKb, height: 16.4, fill: '#2a6b6b'});
    
    
  });
  [[geneBlocksRow0, 1443.5], [geneBlocksRow1, 1460.6]].forEach(row => {
    row[0].forEach(g => {
      const w = g[1] * pxPerKb, x = xKb(g[0]) - w / 2;
      const l = mk(root, 'rect', {x: x, y: row[1] - 2, width: w, height: 4, fill: '#1f4ea8'});
      
      
      const r = mk(root, 'rect', {x: x + w * .08, y: row[1] - 7, width: w * .84, height: 14, fill: '#1f4ea8', rx: 1});
      
      
    });
  });
  const sk = mk(root, 'line', {x1: 256, x2: 429, y1: 1451, y2: 1451, stroke: '#1f4ea8', 'stroke-width': 3.5});
  
  
  const ske = mk(root, 'line', {x1: 429, x2: 429, y1: 1444, y2: 1458, stroke: '#1f4ea8', 'stroke-width': 2});
  
  
  skap2ExonsKb.forEach(kb => {
    const x = xKb(kb);
    const m = mk(root, 'path', {d: 'M' + (x - 5) + ',1451 L' + (x + 3) + ',1444.5 V1457.5 Z', fill: '#1f4ea8'});
    
    
  });
})();

/* ===== scatter panels ===== */
function drawScatter(rootId, cfg) {
  const root = document.getElementById(rootId);
  const X = v => cfg.x0 + v * cfg.ux;
  const Y = v => cfg.y0 - v * cfg.uy;
  const dots = (vx, vy) => {
    const c = mk(root, 'circle', {cx: X(vx), cy: Y(vy), r: cfg.r, fill: '#000'});
    
    
  };
  let pts = cfg.upperX.map((v, i) => X(v) + ',' + Y(cfg.upperY[i]));
  pts = pts.concat(cfg.lowerX.map((v, i) => X(v) + ',' + Y(cfg.lowerY[i])));
  const cloud = mk(root, 'polygon', {points: pts.join(' '), fill: '#000', stroke: '#000', 'stroke-width': cfg.r * 1.6, 'stroke-linejoin': 'round'});
  
  
  cfg.columnsX.forEach((cx, i) => {
    cfg.levelsY.forEach(ly => {
      if (ly > cfg.rowLimit && ly <= cfg.columnTops[i]) dots(cx, ly);
    });
  });
  cfg.rowMax.forEach((mx, i) => {
    const ly = cfg.levelsY[i];
    cfg.rowLevelsX.forEach(lx => { if (lx <= mx) dots(lx, ly); });
  });
  cfg.outX.forEach((v, i) => dots(v, cfg.outY[i]));

  const frame = mk(root, 'rect', {x: cfg.x0, y: cfg.yTop, width: cfg.xRight - cfg.x0, height: cfg.y0 - cfg.yTop, fill: 'none', stroke: cfg.frame, 'stroke-width': cfg.frameW});
  
  
  cfg.ticks.forEach(v => {
    const t1 = mk(root, 'path', {d: 'M' + X(v) + ',' + cfg.y0 + ' v-6 M' + X(v) + ',' + cfg.yTop + ' v6', stroke: cfg.frame, 'stroke-width': 2.2, fill: 'none'});
    
    
    const t2 = mk(root, 'path', {d: 'M' + cfg.x0 + ',' + Y(v) + ' h6 M' + cfg.xRight + ',' + Y(v) + ' h-6', stroke: cfg.frame, 'stroke-width': 2.2, fill: 'none'});
    
    
    const lx = mk(root, 'text', {x: X(v) + cfg.xlOff, y: cfg.y0 + 28, 'text-anchor': 'middle', style: 'font-size:26px', fill: cfg.label}, String(v));
    
    
    const ly = mk(root, 'text', {x: cfg.x0 - 11, y: Y(v) + 9, 'text-anchor': 'end', style: 'font-size:26px', fill: cfg.label}, String(v));
    
    
  });
  cfg.minor.forEach(v => {
    const t2 = mk(root, 'path', {d: 'M' + cfg.x0 + ',' + Y(v) + ' h6 M' + cfg.xRight + ',' + Y(v) + ' h-6', stroke: cfg.frame, 'stroke-width': 2.2, fill: 'none'});
    
    
  });
}
drawScatter('panelC', {x0: 428, y0: 2070.6, ux: 54.3, uy: 54.5, yTop: 1580, xRight: 917, r: 3.6, frame: '#333', frameW: 2.6, label: '#333', xlOff: 0, rowLimit: 1.5,
  upperX: cUpperX, upperY: cUpperY, lowerX: cLowerX, lowerY: cLowerY, columnsX: cColumnsX, columnTops: cColumnTops, levelsY: cLevelsY, rowLevelsX: cRowLevelsX, rowMax: cRowMax, outX: cOutliersX, outY: cOutliersY, ticks: cTickLabels, minor: cMinorY});
drawScatter('panelD', {x0: 1273.5, y0: 2072, ux: 41.3, uy: 41.3, yTop: 1575.7, xRight: 1768, r: 2.9, frame: '#555', frameW: 3.8, label: '#555', xlOff: 0, rowLimit: 2.3,
  upperX: dUpperX, upperY: dUpperY, lowerX: dLowerX, lowerY: dLowerY, columnsX: dColumnsX, columnTops: dColumnTops, levelsY: dLevelsY, rowLevelsX: dRowLevelsX, rowMax: dRowMax, outX: dOutliersX, outY: dOutliersY, ticks: dTickLabels, minor: []});

/* ===== panel e ===== */
(function () {
  const root = document.getElementById('panelE');
  const frames = [
    {x: 458, w: 305, peaks: eWindow1Peaks, bands: eWindow1Bands},
    {x: 770, w: 281, peaks: eWindow2Peaks, bands: eWindow2Bands},
    {x: 1061, w: 296, peaks: eWindow3Peaks, bands: eWindow3Bands}
  ];
  const trackColors = ['#0d1420','#0d1420','#0d1420','#6a6e74','#a82a35','#1a8a4f','#5b4aa5','#6a6e74','#a82a35','#1a8a4f','#5b4aa5','#6a6e74','#a82a35','#1a8a4f','#5b4aa5'];
  const base = i => 2281.4 + 36.9 * i;
  const trackH = 36;
  const labelEnd = [445,445,445,436,445,445,445,438,445,445,445,438,445,445,445];
  eTrackNames.forEach((n, i) => {
    const t = mk(root, 'text', {x: labelEnd[i], y: 2272.3 + 36.9 * i, 'text-anchor': 'end', class: 'el'}, n);
    
    
  });
  frames.forEach(f => {
    f.bands.forEach(b => {
      const r = mk(root, 'rect', {x: f.x + (b[0] / 100) * f.w, y: 2248, width: (b[1] / 100) * f.w, height: 549, fill: '#cdd3ea'});
      
      
    });
    for (let i = 0; i < 14; i++) {
      const l = mk(root, 'line', {x1: f.x + 3, x2: f.x + f.w - 3, y1: base(i), y2: base(i), stroke: '#c4c4c4', 'stroke-width': 1.6});
      
      
    }
    f.peaks.forEach(p => {
      const c = f.x + (p[1] / 100) * f.w, h = (p[3] / 100) * f.w / 2, b = base(p[0]), t = b - (p[2] / 100) * trackH;
      const m = mk(root, 'path', {d: peakPath(c, h, b, t), fill: trackColors[p[0]]});
      
      
    });
    const fr = mk(root, 'rect', {x: f.x, y: 2245.3, width: f.w, height: 553.2, fill: 'none', stroke: '#2b2b2b', 'stroke-width': 4.5});
    
    
  });
})();

/* ===== panel f ===== */
(function () {
  const root = document.getElementById('panelF');
  const y0 = 2750, unit = 103;
  const Y = v => y0 - v * unit;
  const barX = [1561.2,1595.5,1630.2,1698.8,1733.5,1767.8,1836.7,1871,1905.3];
  const colors = ['#5f4da0','#a62b36','#148a46'];
  fValues.forEach((v, i) => {
    const r = mk(root, 'rect', {x: barX[i], y: Y(v), width: 30, height: v * unit, fill: colors[i % 3], stroke: '#222', 'stroke-width': 3.5});
    
    
    const t = mk(root, 'text', {transform: 'translate(' + (barX[i] + 22) + ',2766) rotate(-41)', 'text-anchor': 'end', style: 'font-size:24px', fill: '#333'}, fCategories[i]);
    
    
  });
  const yAxis = mk(root, 'line', {x1: 1522, x2: 1522, y1: 2254, y2: y0 + 1, stroke: '#555', 'stroke-width': 3.2});
  
  
  const xAxis = mk(root, 'path', {d: 'M1520,2750 H1959 M1679,2750 v-6 M1817,2750 v-6', fill: 'none', stroke: '#555', 'stroke-width': 3});
  
  
  fYTicks.forEach(v => {
    const t = mk(root, 'line', {x1: 1522, x2: 1528, y1: Y(v), y2: Y(v), stroke: '#555', 'stroke-width': 2.5});
    
    
    const l = mk(root, 'text', {x: 1510, y: Y(v) + 3, 'text-anchor': 'end', style: 'font-size:22px', fill: '#555'}, String(v));
    
    
  });
})();
</script>
</body>
</html>
